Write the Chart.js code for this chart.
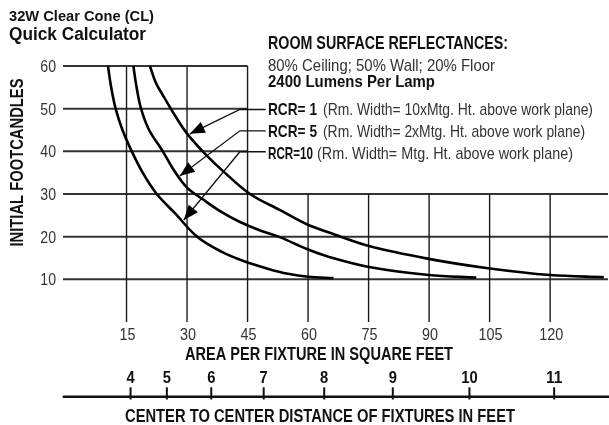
<!DOCTYPE html>
<html>
<head>
<meta charset="utf-8">
<script src="https://cdn.jsdelivr.net/npm/chart.js@4.4.1/dist/chart.umd.min.js"></script>
<style>
  html, body { margin: 0; padding: 0; background: #fff; }
  canvas { display: block; }
</style>
</head>
<body>
<canvas id="calc" width="609" height="425"></canvas>
<script>
// --- chart values ---
const areaTicks = [15, 30, 45, 60, 75, 90, 105, 120];
const fcTicks = [10, 20, 30, 40, 50, 60];
const spacingFeet = [4, 5, 6, 7, 8, 9, 10, 11];

// RCR = 1
const rcr1Area = [20.8, 22.3, 24.1, 27.4, 30.3, 34.9, 39, 45.6, 53.1, 59.7, 65.4, 75.1, 89.9, 104.6, 120, 133.3];
const rcr1Fc   = [60, 56, 53, 47.8, 43.8, 39, 35.3, 30, 26.2, 22.9, 20.9, 17.8, 14.8, 12.6, 11, 10.5];
// RCR = 5
const rcr5Area = [16.7, 17.5, 18.6, 20.6, 24, 26.8, 30, 34, 38.5, 43, 48, 53, 59.7, 65.4, 75.1, 89.9, 101.7];
const rcr5Fc   = [60, 55, 50, 45, 40, 35.5, 31.5, 28.7, 25.8, 23.5, 21.5, 19.9, 17.1, 15.2, 12.9, 11, 10.4];
// RCR = 10
const rcr10Area = [10.4, 11.2, 12.3, 14, 16.3, 19, 22.5, 27, 32.5, 38.5, 44, 50, 55, 60, 66.3];
const rcr10Fc   = [60, 55, 50, 45, 40, 35, 30, 25.5, 20, 16.5, 14.3, 12.5, 11.3, 10.6, 10.3];

const FONT = '"Liberation Sans Narrow", "Liberation Sans", Arial, sans-serif';
function font(size, bold) {
  return (bold ? 'bold ' : '') + size + 'px ' + FONT;
}

// stretch/squeeze a text to an exact width
function fitText(ctx, text, x, y, w, align) {
  const m = ctx.measureText(text).width;
  ctx.save();
  ctx.translate(x, y);
  ctx.scale(w / m, 1);
  ctx.textAlign = align || 'left';
  ctx.fillText(text, 0, 0);
  ctx.restore();
}

function toPoints(xs, ys) {
  return xs.map((x, i) => ({ x: x, y: ys[i] }));
}

// arrows from the legend text to the curves (data coordinates)
const callouts = [
  { tip: [30.7, 44.1], elbow: [43.1, 49.8], end: 49.5 },
  { tip: [28.2, 34.2], elbow: [43.1, 44.8], end: 49.5 },
  { tip: [29.2, 23.9], elbow: [43.1, 39.9], end: 49.5 }
];

const gridPlugin = {
  id: 'calcGrid',
  beforeDatasetsDraw(chart) {
    const { ctx, chartArea: a, scales: { x, y } } = chart;
    ctx.save();
    // horizontal lines: upper ones stop at 45, lower ones run full width
    ctx.strokeStyle = '#333';
    ctx.lineWidth = 2;
    fcTicks.forEach(v => {
      const py = y.getPixelForValue(v);
      const right = v >= 40 ? x.getPixelForValue(45) : a.right + 3;
      ctx.beginPath();
      ctx.moveTo(a.left - 3, py);
      ctx.lineTo(right, py);
      ctx.stroke();
    });
    // vertical lines: up to 60 for the first three, up to 30 for the rest
    ctx.strokeStyle = '#1a1a1a';
    ctx.lineWidth = 1.4;
    areaTicks.forEach(v => {
      const px = x.getPixelForValue(v);
      const top = v <= 45 ? y.getPixelForValue(60) : y.getPixelForValue(30);
      ctx.beginPath();
      ctx.moveTo(px, top);
      ctx.lineTo(px, y.getPixelForValue(0));
      ctx.stroke();
    });
    ctx.restore();
  },
  afterDatasetsDraw(chart) {
    const { ctx, scales: { x, y } } = chart;
    ctx.save();
    ctx.textBaseline = 'alphabetic';

    // callout leaders + arrow heads
    ctx.strokeStyle = '#111';
    ctx.fillStyle = '#000';
    ctx.lineWidth = 1.3;
    callouts.forEach(c => {
      const tx = x.getPixelForValue(c.tip[0]), ty = y.getPixelForValue(c.tip[1]);
      const ex = x.getPixelForValue(c.elbow[0]), ey = y.getPixelForValue(c.elbow[1]);
      const rx = x.getPixelForValue(c.end);
      ctx.beginPath();
      ctx.moveTo(rx, ey);
      ctx.lineTo(ex, ey);
      ctx.lineTo(tx, ty);
      ctx.stroke();
      const ang = Math.atan2(ty - ey, tx - ex);
      const len = 15, half = 6;
      const bx = tx - Math.cos(ang) * len, by = ty - Math.sin(ang) * len;
      ctx.beginPath();
      ctx.moveTo(tx, ty);
      ctx.lineTo(bx + Math.sin(ang) * half, by - Math.cos(ang) * half);
      ctx.lineTo(bx - Math.sin(ang) * half, by + Math.cos(ang) * half);
      ctx.closePath();
      ctx.fill();
    });

    // y tick labels
    ctx.fillStyle = '#333';
    ctx.font = font(17, false);
    fcTicks.forEach(v => {
      fitText(ctx, String(v), 56, y.getPixelForValue(v) + 6, 15.7, 'right');
    });
    // x tick labels
    areaTicks.forEach(v => {
      const s = String(v);
      fitText(ctx, s, x.getPixelForValue(v) + 1, 339.6, s.length * 8, 'center');
    });

    // titles
    ctx.fillStyle = '#111';
    ctx.font = font(15, true);
    fitText(ctx, '32W Clear Cone (CL)', 9, 20.7, 145);
    ctx.font = font(18, true);
    fitText(ctx, 'Quick Calculator', 9, 40, 137);

    ctx.font = font(18, true);
    fitText(ctx, 'ROOM SURFACE REFLECTANCES:', 268, 49.3, 240);
    ctx.fillStyle = '#333';
    ctx.font = font(17, false);
    fitText(ctx, '80% Ceiling; 50% Wall; 20% Floor', 268, 70.7, 227);
    ctx.fillStyle = '#111';
    ctx.font = font(17, true);
    fitText(ctx, '2400 Lumens Per Lamp', 268, 87.3, 167);

    const rows = [
      { b: 'RCR= 1', bw: 49, t: '(Rm. Width= 10xMtg. Ht. above work plane)', tx: 323, tw: 270, y: 115 },
      { b: 'RCR= 5', bw: 49, t: '(Rm. Width= 2xMtg. Ht. above work plane)', tx: 323, tw: 262, y: 137.3 },
      { b: 'RCR=10', bw: 45, t: '(Rm. Width= Mtg. Ht. above work plane)', tx: 317, tw: 256, y: 159.3 }
    ];
    rows.forEach(r => {
      ctx.fillStyle = '#111';
      ctx.font = font(17, true);
      fitText(ctx, r.b, 268, r.y, r.bw);
      ctx.fillStyle = '#333';
      ctx.font = font(17, false);
      fitText(ctx, r.t, r.tx, r.y, r.tw);
    });

    // axis titles
    ctx.fillStyle = '#111';
    ctx.font = font(18, true);
    fitText(ctx, 'AREA PER FIXTURE IN SQUARE FEET', 319, 360, 268, 'center');
    ctx.save();
    ctx.translate(23, 162.5);
    ctx.rotate(-Math.PI / 2);
    fitText(ctx, 'INITIAL FOOTCANDLES', 0, 0, 168, 'center');
    ctx.restore();

    // second scale: fixture spacing in feet, placed at area = spacing²
    const lineY = 396.7;
    ctx.strokeStyle = '#111';
    ctx.lineWidth = 2.6;
    ctx.beginPath();
    ctx.moveTo(62.7, lineY);
    ctx.lineTo(609, lineY);
    ctx.stroke();
    ctx.lineWidth = 2;
    ctx.font = font(17, true);
    spacingFeet.forEach(d => {
      const px = x.getPixelForValue(d * d);
      ctx.beginPath();
      ctx.moveTo(px, 387.3);
      ctx.lineTo(px, 399.5);
      ctx.stroke();
      const s = String(d);
      fitText(ctx, s, px, 382.7, s.length * 8.2, 'center');
    });
    ctx.font = font(18, true);
    fitText(ctx, 'CENTER TO CENTER DISTANCE OF FIXTURES IN FEET', 320, 421.7, 390, 'center');

    ctx.restore();
  }
};

const curveStyle = {
  borderColor: '#000',
  borderWidth: 2.6,
  pointRadius: 0,
  fill: false,
  tension: 0.35,
  clip: false
};

new Chart(document.getElementById('calc'), {
  type: 'line',
  data: {
    datasets: [
      Object.assign({ label: 'RCR= 1', data: toPoints(rcr1Area, rcr1Fc) }, curveStyle),
      Object.assign({ label: 'RCR= 5', data: toPoints(rcr5Area, rcr5Fc) }, curveStyle),
      Object.assign({ label: 'RCR=10', data: toPoints(rcr10Area, rcr10Fc) }, curveStyle)
    ]
  },
  options: {
    responsive: false,
    animation: false,
    layout: { padding: { left: 66, right: 4, top: 66, bottom: 103 } },
    scales: {
      x: { type: 'linear', min: 0, max: 133.6, display: false },
      y: { type: 'linear', min: 0, max: 60, display: false }
    },
    plugins: {
      legend: { display: false },
      tooltip: { enabled: false }
    }
  },
  plugins: [gridPlugin]
});
</script>
</body>
</html>
